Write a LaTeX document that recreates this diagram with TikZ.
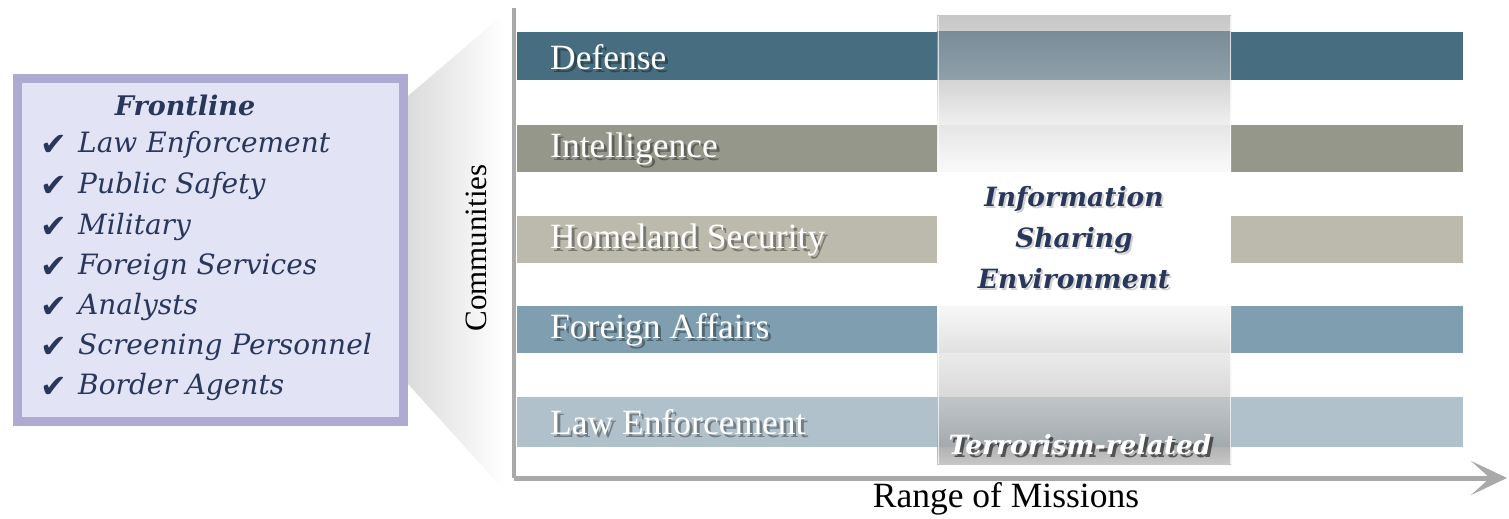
\documentclass[tikz,border=0pt]{standalone}
\usepackage{fontspec}
\setmainfont{Liberation Serif}
\newfontfamily\dvs{DejaVu Serif}
\newfontfamily\dvsans{DejaVu Sans}
\usetikzlibrary{arrows.meta}
\definecolor{cdef}{HTML}{466E80}
\definecolor{cint}{HTML}{94978A}
\definecolor{chom}{HTML}{BBBAAD}
\definecolor{cfor}{HTML}{7F9EAF}
\definecolor{claw}{HTML}{B0C1CB}
\definecolor{navy}{HTML}{29375A}
\definecolor{boxfill}{HTML}{E3E3F6}
\definecolor{boxline}{HTML}{AEABD3}
\definecolor{axisgray}{HTML}{A9A9A9}
\tikzset{
  barlbl/.style={anchor=west, inner sep=0pt, font=\fontsize{35.5}{36}\selectfont, text=white},
  barshd/.style={barlbl, text=black, opacity=0.35, xshift=3pt, yshift=-3pt},
  itemlbl/.style={anchor=west, inner sep=0pt, font=\dvs\itshape\fontsize{28}{28}\selectfont, text=navy},
  checklbl/.style={inner sep=0pt, font=\dvsans\fontsize{32}{32}\selectfont, text=navy},
}
\begin{document}
\begin{tikzpicture}[x=1pt,y=-1pt]
\useasboundingbox (0,0) rectangle (1509,519);
\fill[white] (0,0) rectangle (1509,519);
% funnel
\shade[left color=black!14, right color=white, draw=none]
  (408,96) -- (504,14) -- (504,490) -- (408,384) -- cycle;
% left box
\draw[line width=9pt, draw=boxline, fill=boxfill] (17.5,78.5) rectangle (403.5,421.5);
\node[font=\dvs\bfseries\itshape\fontsize{27}{27}\selectfont, text=navy, inner sep=0pt] (front) at (185,105) {Frontline};
\foreach \n/\y/\t in {c1/145/Law Enforcement, c2/186/Public Safety, c3/227/Military, c4/267/Foreign Services, c5/307/Analysts, c6/347/Screening Personnel, c7/387/Border Agents}{
  \node[checklbl] (\n k) at (54,\y) {✔};
  \node[itemlbl] (\n t) at (78,\y) {\t};
}
% bars
\fill[cdef] (517,32) rectangle (1463,80);
\fill[cint] (517,125) rectangle (1463,172);
\fill[chom] (517,216) rectangle (1463,263);
\fill[cfor] (517,306) rectangle (1463,353);
\fill[claw] (517,397) rectangle (1463,447);
% bar labels
\foreach \n/\y/\t in {def/57/Defense, int/149/Intelligence, hom/240/Homeland Security, for/330/Foreign Affairs, law/422/Law Enforcement}{
  \node[barshd] (\n s) at (550,\y) {\t};
  \node[barlbl] (\n) at (550,\y) {\t};
}
% central panel
\shade[top color=black!22, bottom color=black!19] (937,16) rectangle (1231,32);
\shade[top color={rgb,255:red,122;green,140;blue,152}, bottom color={rgb,255:red,143;green,160;blue,170}] (937,32) rectangle (1231,80);
\shade[top color=black!17, bottom color=black!6] (937,80) rectangle (1231,125);
\shade[top color=black!10, bottom color=black!2] (937,125) rectangle (1231,172);
\fill[white] (937,172) rectangle (1231,306);
\shade[top color=black!3, bottom color=black!12] (937,306) rectangle (1231,353);
\shade[top color=black!8, bottom color=black!15] (937,353) rectangle (1231,397);
\shade[top color={rgb,255:red,192;green,197;blue,200}, bottom color={rgb,255:red,163;green,170;blue,175}] (937,397) rectangle (1231,447);
\shade[top color=black!30, bottom color=black!22] (937,447) rectangle (1231,464);
\draw[white, line width=1pt, opacity=0.7] (938,16) -- (938,464) (1230,16) -- (1230,464);
\node[align=center, inner sep=0pt, font=\dvs\bfseries\itshape\fontsize{26.5}{41}\selectfont, text=black, opacity=0.18, xshift=2pt, yshift=-2pt] (ises) at (1074,238) {Information\\Sharing\\Environment};
\node[align=center, inner sep=0pt, font=\dvs\bfseries\itshape\fontsize{26.5}{41}\selectfont, text=navy] (ise) at (1074,238) {Information\\Sharing\\Environment};
\node[inner sep=0pt, font=\dvs\bfseries\itshape\fontsize{26.5}{26}\selectfont, text=black, opacity=0.55, xshift=3pt, yshift=-3pt] (terrs) at (1080,445) {Terrorism-related};
\node[inner sep=0pt, font=\dvs\bfseries\itshape\fontsize{26.5}{26}\selectfont, text=white] (terr) at (1080,445) {Terrorism-related};
% axes
\coordinate (ytop) at (514,8);
\coordinate (orig) at (514,478);
\coordinate (xend) at (1507,478);
\draw[axisgray, line width=4pt] (ytop) -- (orig);
\draw[axisgray, line width=5pt, -{Stealth[length=36pt,width=34pt,inset=19pt]}] (orig) -- (xend);
\node[rotate=90, inner sep=0pt, font=\fontsize{31}{31}\selectfont] (comm) at (476,248) {Communities};
\node[inner sep=0pt, font=\fontsize{35.5}{36}\selectfont] (range) at (1006,499) {Range of Missions};
\end{tikzpicture}
\end{document}
